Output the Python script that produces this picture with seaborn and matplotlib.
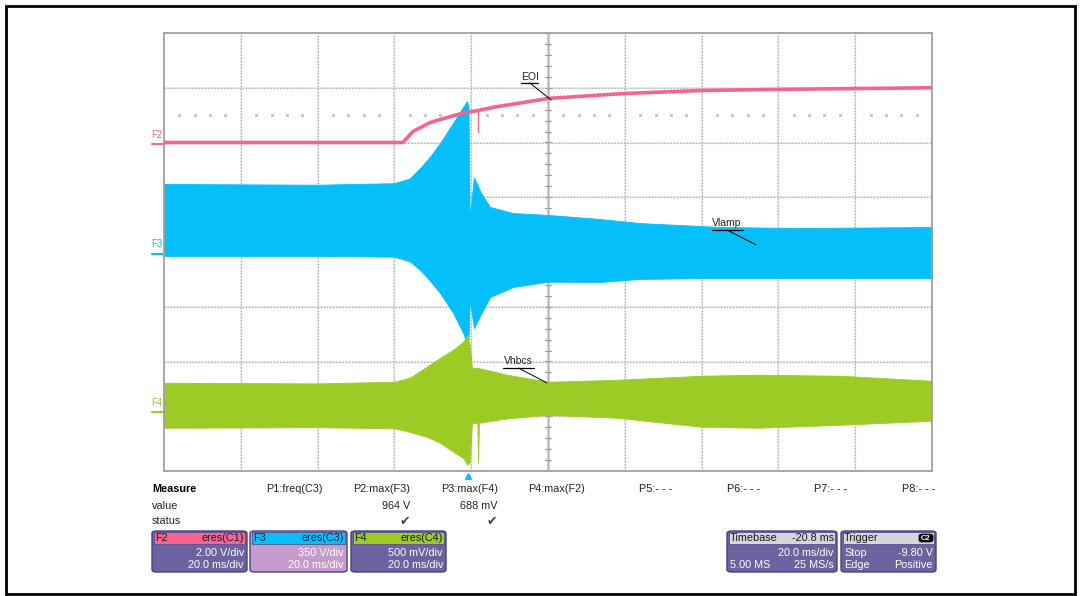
import numpy as np
import pandas as pd
import matplotlib
matplotlib.use("Agg")
import matplotlib.pyplot as plt
import seaborn as sns
from matplotlib.patches import FancyBboxPatch, Rectangle
from matplotlib.lines import Line2D
import matplotlib.transforms as mtransforms

# ---------------- data ----------------
# time in ms relative to screen centre, 20 ms/div
# F2 = EOI signal, volts (2 V/div)
f2_t = [-100, -37.8, -35.2, -30.7, -26.3, -22.1, -20.0, -18.2,
        -13.3, -6.5, 0, 20, 40, 60, 80, 100]
f2_v = [0.0, 0.0, 0.40, 0.73, 0.91, 1.08, 1.13, 1.17,
        1.31, 1.46, 1.61, 1.79, 1.90, 1.94, 1.97, 2.0]
# narrow glitch on F2
f2_glitch_t = -18.2
f2_glitch_v = [1.17, 0.40]

# F3 = Vlamp envelope, volts (350 V/div)
f3_t = [-100, -60, -40, -36, -33.3, -30.7, -28.1, -24.7, -22.1, -21.1, -20.7,
        -20.4, -19.3, -17.5, -15.1, -9.1, 0, 13.5, 24, 44.8, 65.6, 100]
f3_hi = [435, 430, 440, 470, 537, 610, 697, 825, 927, 964, 930,
         217, 479, 380, 288, 249, 237, 211, 185, 160, 153, 160]
f3_lo = [-25, -25, -30, -60, -115, -185, -262, -390, -518, -582, -560,
         -300, -486, -400, -288, -224, -190, -192, -172, -166, -166, -166]

# F4 = Vhbcs envelope, millivolts (500 mV/div)
f4_t = [-100, -60, -40, -36, -31.6, -28.1, -24.7, -22.1, -21.0, -20.4, -19.8,
        -18.4, -18.2, -18.0, -10.7, 0, 18, 40, 55, 76, 100]
f4_hi = [256, 250, 265, 301, 402, 484, 557, 630, 688, 600, 393,
         390, 390, 390, 329, 265, 283, 320, 329, 320, 274]
f4_lo = [-155, -150, -160, -192, -237, -292, -374, -429, -493, -470, -110,
         -110, -475, -110, -70, -37, -64, -146, -155, -128, -91]

trigger_t = -20.8

# channel settings: (scale per div, offset in div)
f2_scale, f2_off = 2.0, 2.0
f3_scale, f3_off = 350.0, 0.0
f4_scale, f4_off = 500.0, -2.9

measure_headers = ["P1:freq(C3)", "P2:max(F3)", "P3:max(F4)", "P4:max(F2)",
                   "P5:- - -", "P6:- - -", "P7:- - -", "P8:- - -"]
measure_values = ["", "964 V", "688 mV", "", "", "", "", ""]
measure_status = ["", "\u2714", "\u2714", "", "", "", "", ""]

PINK = "#F4648C"
CYAN = "#05BFFA"
GREEN = "#9BCB24"
BODY = "#6C62A0"
BODY_LIGHT = "#C49CCB"

# ---------------- figure ----------------
sns.set_theme(style="white")
plt.rcParams["font.family"] = ["Liberation Sans", "DejaVu Sans"]

W, H = 1080, 596
fig = plt.figure(figsize=(W / 100, H / 100), dpi=100)
fig.patch.set_facecolor("white")


def fx(x):
    return x / W


def fy(y):
    return 1 - y / H


ax = fig.add_axes([fx(164), fy(471), 768 / W, 438 / H])
ax.set_xlim(-100, 100)
ax.set_ylim(-4, 4)
ax.set_xticks([])
ax.set_yticks([])
ax.set_facecolor("white")
for s in ax.spines.values():
    s.set_color("#A0A0A0")
    s.set_linewidth(1.3)

# graticule
for xv in np.arange(-80, 81, 20):
    if xv == 0:
        continue
    ax.axvline(xv, color="#EAEAEA", lw=1.4, zorder=0)
    ax.axvline(xv, color="#ABABAB", lw=0.9, ls=(0, (1, 1.5)), zorder=0.5)
for yv in range(-3, 4):
    if yv == 0:
        continue
    ax.axhline(yv, color="#EAEAEA", lw=1.4, zorder=0)
    ax.axhline(yv, color="#ABABAB", lw=0.9, ls=(0, (1, 1.5)), zorder=0.5)
ax.axvline(0, color="#BDBDBD", lw=1.8, zorder=0.6)
ax.axhline(0, color="#BDBDBD", lw=1.8, zorder=0.6)
for yv in np.arange(-4, 4.01, 0.2):
    ax.plot([-0.9, 0.9], [yv, yv], color="#A0A0A0", lw=0.9, zorder=0.7)
for xv in np.arange(-100, 100.01, 4):
    ax.plot([xv, xv], [-0.06, 0.06], color="#A0A0A0", lw=0.9, zorder=0.7)
# dotted reference row
dots = [xv for xv in np.arange(-96, 100, 4) if abs(xv / 20 - round(xv / 20)) > 1e-6]
ax.plot(dots, [2.5] * len(dots), ls="none", marker="s", ms=1.2,
        color="#C4C4C4", zorder=0.7)

# traces
t3 = np.array(f3_t)
ax.fill_between(t3, f3_off + np.array(f3_lo) / f3_scale,
                f3_off + np.array(f3_hi) / f3_scale,
                color=CYAN, lw=0.6, edgecolor=CYAN, zorder=2)
t4 = np.array(f4_t)
ax.fill_between(t4, f4_off + np.array(f4_lo) / f4_scale,
                f4_off + np.array(f4_hi) / f4_scale,
                color=GREEN, lw=0.6, edgecolor=GREEN, zorder=2)
df2 = pd.DataFrame({"t": f2_t, "y": f2_off + np.array(f2_v) / f2_scale})
sns.lineplot(data=df2, x="t", y="y", ax=ax, color=PINK, lw=2.6, zorder=3,
             estimator=None, sort=False)
ax.plot([f2_glitch_t, f2_glitch_t],
        [f2_off + v / f2_scale for v in f2_glitch_v],
        color=PINK, lw=1.0, zorder=3)
ax.set_xlabel("")
ax.set_ylabel("")

# channel markers on the left
for name, off, col, dy in [("F2", f2_off, PINK, 0.13), ("F3", f3_off, CYAN, 0.15),
                           ("F4", f4_off, GREEN, 0.15)]:
    ax.text(-100.4, off + dy, name, color=col, fontsize=7, ha="right",
            va="center", clip_on=False)
    ax.add_line(Line2D([-103, -100], [off - 0.03, off - 0.03], color=col,
                       lw=1.5, clip_on=False))

# annotations
def label(txt, tx, ty, ul, ur, uy, lx, ly):
    ax.text(tx, ty, txt, fontsize=7.5, ha="center", va="center", color="#222222",
            zorder=5)
    ax.plot([ul, ur], [uy, uy], color="black", lw=0.9, zorder=5)
    ax.plot([(ul + ur) / 2, lx], [uy, ly], color="black", lw=0.7, zorder=5)


label("EOI", -4.8, 3.19, -7.0, -2.6, 3.09, 0.8, 2.78)
label("Vlamp", 46.6, 0.53, 42.7, 50.7, 0.40, 54.2, 0.13)
label("Vhbcs", -7.7, -2.0, -11.7, -3.6, -2.12, -0.3, -2.39)

# trigger marker
trans = mtransforms.blended_transform_factory(ax.transData, ax.transAxes)
ax.plot([trigger_t], [-0.012], marker="^", ms=5, color=CYAN, transform=trans,
        clip_on=False, zorder=6)

# ---------------- measurement panel ----------------
tc = "#222222"
fs = 7.8
fig.text(fx(152), fy(489), "Measure", fontsize=fs, fontweight="bold",
         color="black", va="center")
fig.text(fx(152), fy(506), "value", fontsize=fs, color=tc, va="center")
fig.text(fx(152), fy(521), "status", fontsize=fs, color=tc, va="center")
for i, (h, v, s) in enumerate(zip(measure_headers, measure_values, measure_status)):
    xr = 323 + 87.4 * i
    fig.text(fx(xr), fy(489), h, fontsize=fs, color=tc, ha="right", va="center")
    if v:
        fig.text(fx(xr), fy(506), v, fontsize=fs, color=tc, ha="right", va="center")
    if s:
        fig.text(fx(xr - 6), fy(521), s, fontsize=9, color="#444444",
                 ha="center", va="center", family="DejaVu Sans")


def box(x0, x1, head_col, body_col, head_l, head_r, rows, head_txt="#1A1A40"):
    y0, y1 = 531, 572
    fig.patches.append(FancyBboxPatch((fx(x0), fy(y1)), fx(x1 - x0), (y1 - y0) / H,
                                      boxstyle="round,pad=0,rounding_size=0.004",
                                      transform=fig.transFigure, facecolor=body_col,
                                      edgecolor="#4A4080", lw=1.0))
    fig.patches.append(Rectangle((fx(x0 + 2), fy(544)), fx(x1 - x0 - 4), 12 / H,
                                 transform=fig.transFigure, facecolor=head_col,
                                 edgecolor="#5A5090", lw=0.6))
    fig.text(fx(x0 + 3), fy(538), head_l, fontsize=fs, color=head_txt, va="center")
    if head_r:
        fig.text(fx(x1 - 3), fy(538), head_r, fontsize=fs, color=head_txt,
                 ha="right", va="center")
    for yy, (l, r) in zip([553, 565], rows):
        if l:
            fig.text(fx(x0 + 3), fy(yy), l, fontsize=fs, color="white", va="center")
        if r:
            fig.text(fx(x1 - 3), fy(yy), r, fontsize=fs, color="white",
                     ha="right", va="center")


box(152, 247, PINK, BODY, "F2", "eres(C1)", [("", "2.00 V/div"), ("", "20.0 ms/div")])
box(250, 347, CYAN, BODY_LIGHT, "F3", "eres(C3)", [("", "350 V/div"), ("", "20.0 ms/div")])
box(351, 446, GREEN, BODY, "F4", "eres(C4)", [("", "500 mV/div"), ("", "20.0 ms/div")])
box(727, 837, "#D6D6D6", BODY, "Timebase", "-20.8 ms",
    [("", "20.0 ms/div"), ("5.00 MS", "25 MS/s")], head_txt="#1A1A1A")
box(841, 936, "#D6D6D6", BODY, "Trigger", "",
    [("Stop", "-9.80 V"), ("Edge", "Positive")], head_txt="#1A1A1A")
fig.patches.append(FancyBboxPatch((fx(919), fy(542)), fx(14), 8 / H,
                                  boxstyle="round,pad=0,rounding_size=0.003",
                                  transform=fig.transFigure, facecolor="black",
                                  edgecolor="black", lw=0.5))
fig.text(fx(926), fy(538), "C2", fontsize=5.5, color="white", ha="center",
         va="center", fontweight="bold")

# outer frame
fig.patches.append(Rectangle((fx(6), fy(594)), fx(1069), 588 / H,
                             transform=fig.transFigure, fill=False,
                             edgecolor="black", lw=2))

fig.savefig("out.png", dpi=100, facecolor="white")
